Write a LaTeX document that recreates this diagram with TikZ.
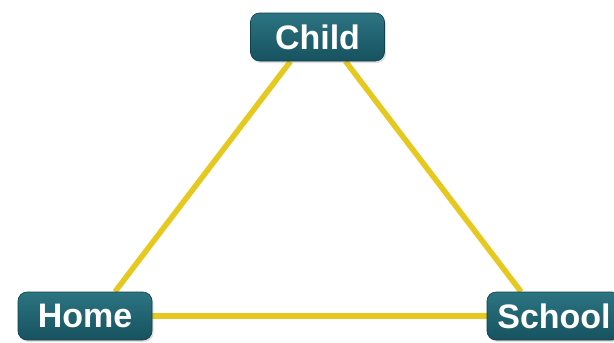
\documentclass[tikz,border=0pt]{standalone}
\usepackage{fontspec}
\setmainfont{Liberation Sans}
\usetikzlibrary{shadows,backgrounds}
\definecolor{boxtop}{HTML}{2C7482}
\definecolor{boxbot}{HTML}{17525F}
\definecolor{boxline}{HTML}{123F4A}
\definecolor{linkcol}{HTML}{E6C81E}
\tikzset{
  labelbox/.style={rounded corners=9pt, top color=boxtop, bottom color=boxbot,
    draw=boxline, line width=0.6pt, text=white, font=\bfseries\fontsize{34}{34}\selectfont,
    inner sep=0pt, minimum height=48pt, drop shadow={opacity=0.25, shadow xshift=1.5pt, shadow yshift=-2pt}},
  link/.style={draw=linkcol, line width=5.5pt}
}
\begin{document}
\begin{tikzpicture}[x=1pt,y=-1pt]
\useasboundingbox (0,0) rectangle (614,343);
\clip (0,0) rectangle (614,343);
\node[labelbox, minimum width=134pt] (child) at (317.5,37) {Child};
\node[labelbox, minimum width=134pt] (home) at (85,316) {Home};
\node[labelbox, minimum width=134pt] (school) at (554,316) {School};
\begin{scope}[on background layer]
\fill[white] (0,0) rectangle (614,343);
\draw[link] ([xshift=-27pt]child.south) -- ([xshift=30pt]home.north);
\draw[link] ([xshift=28pt]child.south) -- ([xshift=-33pt]school.north);
\draw[link] (home.east) -- (school.west);
\end{scope}
\end{tikzpicture}
\end{document}
